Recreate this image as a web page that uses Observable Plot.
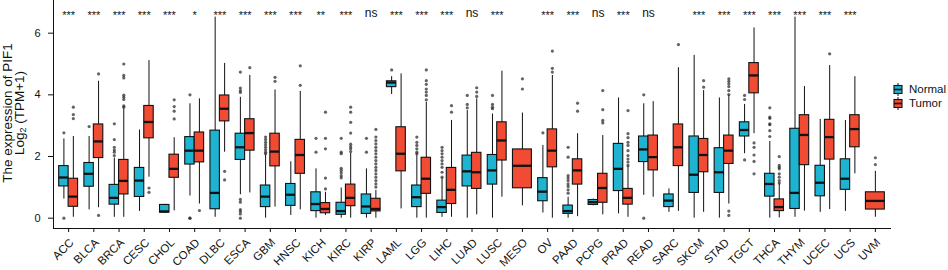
<!DOCTYPE html>
<html>
<head>
<meta charset="utf-8">
<script src="https://cdn.jsdelivr.net/npm/d3@7"></script>
<script src="https://cdn.jsdelivr.net/npm/@observablehq/plot@0.6"></script>
<style>
  body { margin: 0; background: #fff; }
  #wrap { position: relative; width: 948px; height: 270px; font-family: "Liberation Sans", Arial, sans-serif; }
  #ytitle { position: absolute; left: 14px; top: 113px; transform: translate(-50%, -50%) rotate(-90deg);
            text-align: center; font-size: 13.5px; line-height: 12px; white-space: nowrap; color: #111; }
  #ytitle sub { font-size: 9px; line-height: 0; vertical-align: -2px; }
  #legend { position: absolute; left: 893px; top: 82px; font-size: 11.5px; color: #111; }
  .item { display: flex; align-items: center; height: 14px; }
  .item svg { margin-right: 6px; }
</style>
</head>
<body>
<div id="wrap">
  <div id="chart"></div>
  <div id="ytitle">The expression of PIF1<br>Log<sub>2</sub> (TPM+1)</div>
  <div id="legend"></div>
</div>
<script>
const cancers = ["ACC","BLCA","BRCA","CESC","CHOL","COAD","DLBC","ESCA","GBM","HNSC","KICH","KIRC","KIRP","LAML","LGG","LIHC","LUAD","LUSC","MESO","OV","PAAD","PCPG","PRAD","READ","SARC","SKCM","STAD","TGCT","THCA","THYM","UCEC","UCS","UVM"];
const groups = ["Normal", "Tumor"];
const groupColors = ["#1eb4d1", "#f24b33"];
const signif = ["***","***","***","***","***","*","***","***","***","***","**","***","ns","***","***","***","ns","***","","***","***","ns","***","ns","","***","***","***","***","***","***","***",""];
const yTicks = [0, 2, 4, 6];

// [whisker low, Q1, median, Q3, whisker high]
const normalStats = [
  [0.62,1.03,1.32,1.69,2.57],[0.27,1.02,1.44,1.79,2.65],[0.03,0.44,0.66,1.08,1.95],[0.22,0.69,1.22,1.63,2.86],
  [0.15,0.18,0.22,0.43,0.45],[0.72,1.74,2.19,2.63,3.71],[0.03,0.29,0.82,2.84,6.52],[0.76,1.89,2.30,2.74,3.92],
  [0.0,0.36,0.70,1.06,2.05],[0.09,0.40,0.76,1.11,1.83],[0.0,0.23,0.46,0.84,1.60],[0.0,0.11,0.23,0.50,0.98],
  [0.0,0.14,0.38,0.77,1.60],[4.01,4.25,4.40,4.44,4.59],[0.0,0.36,0.68,1.06,2.05],[0.03,0.17,0.36,0.57,1.30],
  [0.0,1.03,1.52,2.03,3.49],[0.0,1.09,1.55,2.05,3.38],null,[0.17,0.55,0.86,1.30,2.36],
  [0.0,0.14,0.23,0.41,0.68],[0.40,0.43,0.52,0.59,0.62],[0.14,0.88,1.60,2.41,3.90],[0.74,1.82,2.23,2.65,3.71],
  [0.19,0.36,0.57,0.77,0.95],[0.0,0.82,1.41,2.65,5.28],[0.0,0.82,1.49,2.27,3.90],[2.09,2.65,2.86,3.11,3.69],
  [0.0,0.70,1.11,1.44,2.49],[0.03,0.30,0.82,2.90,6.52],[0.19,0.71,1.15,1.70,3.20],[0.22,0.92,1.28,1.91,3.17],null
];
const tumorStats = [
  [0.03,0.37,0.70,1.28,2.65],[0.34,1.95,2.49,3.04,4.44],[0.03,0.77,1.21,1.89,3.55],[1.33,2.59,3.12,3.64,5.11],
  [0.24,1.31,1.60,2.06,2.61],[0.46,1.81,2.19,2.78,3.87],[2.14,3.14,3.55,3.98,5.02],[0.82,2.19,2.76,3.21,4.63],
  [0.36,1.68,2.16,2.74,4.16],[0.27,1.44,2.05,2.54,4.11],[0.09,0.16,0.30,0.49,0.84],[0.0,0.39,0.66,1.09,2.10],
  [0.0,0.22,0.30,0.63,0.90],[0.30,1.52,2.09,2.95,4.68],[0.0,0.79,1.28,1.96,3.76],[0.03,0.46,0.92,1.63,3.17],
  [0.11,0.95,1.49,2.12,3.87],[0.68,1.87,2.52,3.11,4.77],[0.40,0.97,1.70,2.23,3.41],[0.0,1.65,2.19,2.88,4.63],
  [0.05,1.09,1.55,1.91,2.74],[0.11,0.50,0.98,1.44,2.68],[0.03,0.44,0.66,0.95,1.69],[0.68,1.55,1.98,2.68,3.78],
  [0.22,1.69,2.30,3.04,4.88],[0.19,1.49,2.05,2.57,4.14],[0.46,1.76,2.19,2.68,3.98],[2.74,4.05,4.63,5.03,6.17],
  [0.01,0.23,0.36,0.61,1.11],[0.23,1.72,2.70,3.34,4.27],[0.28,1.90,2.63,3.19,4.95],[1.44,2.30,2.89,3.34,4.59],
  [0.03,0.28,0.56,0.84,1.52]
];
const normalOutliers = [
  [2.77,0],[2.97],[3.06,2.55,2.30,2.21,2.14,2.03],[],[],[4.0,0,0],[],[4.74,4.22,4.14,4.08,0.61,0.52,0.28,0.22,0.14,0],
  [2.63,2.55,2.46,2.38,2.30,2.22,2.14,2.09],[],[2.59,2.14],[2.59,2.14,2.09,1.62,1.55,1.47,1.38,1.31],
  [2.59,2.14],[4.81],[2.63,2.46,2.36,2.25,2.14,2.09],[2.30,2.19,2.09,1.98,1.87,1.76,1.65,1.49,1.33],
  [3.98,3.69,3.58],[3.98,3.69,3.60,3.55],[],[2.77],[2.30,1.98,1.38,1.30,1.22,1.11,1.03,0.92,0.81],[],[],[4.0,0],
  [],[],[],[3.98,3.85,1.89],[3.58,3.28,3.24,3.06,3.03,2.84,2.65],[],[],[],[]
];
const tumorOutliers = [
  [3.60,3.36,3.23],[4.68,0.09],[5.0,4.63,4.55,3.99,3.92,3.85,3.64,3.60],[0.98,0.84],[3.84,3.62,3.47,3.22],[0.25],
  [1.52,1.24],[4.88],[4.57,4.44],[4.94,4.31],[3.44,2.59,2.25,1.30,0.95],[3.60,3.44,3.11,2.76,2.40,2.32,2.25,2.16],
  [2.88,2.63,2.52,2.41,2.30,2.19,2.09,1.98,1.87,1.76,1.65,1.55,1.44,1.33,1.22,1.11,1.01],[],
  [4.81,4.46,4.34,4.19,4.09,3.98,3.84],[3.65,3.44],[4.23,4.09,3.95],[],[4.52,4.19],[5.42,4.86,4.74],[3.73,3.47],
  [4.14,3.52,3.17,3.09],[3.49,2.74,2.61,2.46,2.36,2.19,2.03,1.92,1.82,1.71],[],[5.63],[4.46,4.25],
  [4.52,4.44,4.36,4.27,4.14,4.01,0.23,0.09],[2.44,2.30,2.05,1.84,1.44],[2.0,1.71,1.65,1.60,1.44,1.33,1.22,1.14],
  [],[5.33],[],[1.96,1.74]
];

// build box table (dodged positions within each category)
const boxes = [], outs = [];
cancers.forEach((c, i) => {
  const present = [normalStats[i], tumorStats[i]].map((s, g) => s ? g : -1).filter(g => g >= 0);
  present.forEach((g, k) => {
    const s = g === 0 ? normalStats[i] : tumorStats[i];
    const half = present.length === 1 ? 0.375 : 0.1875;
    const center = present.length === 1 ? i : i + (k === 0 ? -0.1875 : 0.1875);
    boxes.push({cancer: c, group: groups[g], x: center, x1: center - half, x2: center + half,
                lo: s[0], q1: s[1], med: s[2], q3: s[3], hi: s[4]});
    const o = g === 0 ? normalOutliers[i] : tumorOutliers[i];
    o.forEach(v => outs.push({x: center, v}));
  });
});
const sigRows = signif.map((s, i) => ({i, s})).filter(d => d.s);

const chart = Plot.plot({
  width: 948, height: 270,
  marginLeft: 53, marginRight: 58, marginTop: 0, marginBottom: 42,
  style: {fontFamily: "Liberation Sans, Arial, sans-serif", fontSize: "11px", color: "#111", background: "#fff"},
  x: {domain: [-0.6, cancers.length - 0.4], ticks: d3.range(cancers.length), tickFormat: () => "",
      tickSize: 4, line: true, label: null},
  y: {domain: [-0.334, 7.06], ticks: yTicks, tickSize: 5, tickPadding: 8, line: true, label: null},
  color: {domain: groups, range: groupColors},
  marks: [
    Plot.ruleX(boxes, {x: "x", y1: "lo", y2: "hi", stroke: "#111", strokeWidth: 1}),
    Plot.rect(boxes, {x1: "x1", x2: "x2", y1: "q1", y2: "q3", fill: "group", stroke: "#111", strokeWidth: 1.1}),
    Plot.ruleY(boxes, {y: "med", x1: "x1", x2: "x2", stroke: "#111", strokeWidth: 2.3}),
    Plot.dot(outs, {x: "x", y: "v", r: 1.6, fill: "#222", fillOpacity: 0.7, stroke: null}),
    Plot.text(sigRows.filter(d => d.s !== "ns"), {x: "i", text: "s", frameAnchor: "top", dy: 11, fontSize: 11, fill: "#111"}),
    Plot.text(sigRows.filter(d => d.s === "ns"), {x: "i", text: "s", frameAnchor: "top", dy: 8, fontSize: 12, fill: "#111"}),
    Plot.text(cancers, {x: (d, i) => i, text: d => d, frameAnchor: "bottom", rotate: -45, textAnchor: "end",
                        lineAnchor: "top", dy: 9, dx: 0, fontSize: 11.5, fill: "#111", clip: false})
  ]
});
document.getElementById("chart").appendChild(chart);

// legend
const leg = document.getElementById("legend");
groups.forEach((g, k) => {
  const item = document.createElement("div");
  item.className = "item";
  item.innerHTML = `<svg width="10" height="13"><line x1="5" x2="5" y1="0" y2="13" stroke="#111"/>` +
    `<rect x="1" y="2.5" width="8" height="8" fill="${groupColors[k]}" stroke="#111" stroke-width="1.1"/>` +
    `<line x1="1" x2="9" y1="6.5" y2="6.5" stroke="#111" stroke-width="1.6"/></svg><span>${g}</span>`;
  leg.appendChild(item);
});
</script>
</body>
</html>
